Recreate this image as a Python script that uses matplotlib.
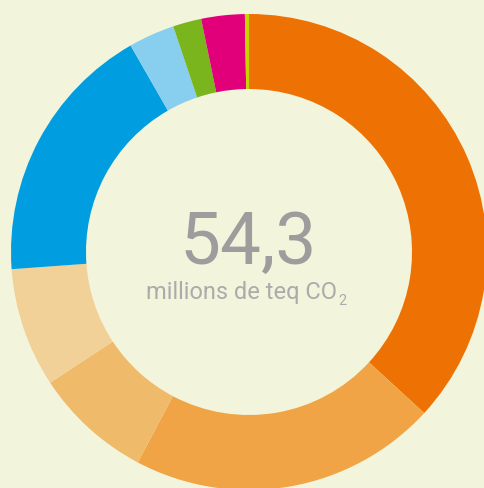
import matplotlib
matplotlib.use("Agg")
import matplotlib.pyplot as plt

# Data (millions de teq CO2), clockwise from top
labels = ["A", "B", "C", "D", "E", "F", "G", "H", "I"]
values = [20.0, 11.35, 4.35, 4.4, 9.7, 1.7, 1.05, 1.6, 0.15]
colors = ["#EE7203", "#F0A445", "#F0BA6B", "#F2D198", "#009EE0",
          "#87CEEF", "#7AB51D", "#E2007A", "#C8D400"]
total_label = "54,3"
unit_label = "millions de teq CO"
unit_sub = "2"

bg = "#F2F5DC"

fig = plt.figure(figsize=(4.84, 4.88), dpi=100, facecolor=bg)
ax = fig.add_axes([0, 0, 1, 1])
ax.set_facecolor(bg)

cx, cy, R, W = 249, 236, 238, 75
ax.pie(values, colors=colors, startangle=90, counterclock=False,
       center=(cx, cy), radius=R,
       wedgeprops=dict(width=W, edgecolor="none", linewidth=0))
ax.set_xlim(0, 484)
ax.set_ylim(0, 488)
ax.set_aspect("equal")
ax.axis("off")

ax.text(248, 244, total_label, ha="center", va="center", fontsize=52.5,
        family="Roboto", color="#9D9D9D")
ax.text(337.5, 189, unit_label, ha="right", va="baseline", fontsize=17,
        family="Roboto", color="#ABABAB")
ax.text(338.5, 183, unit_sub, ha="left", va="baseline", fontsize=10.5,
        family="Roboto", color="#ABABAB")

fig.savefig("out.png", dpi=100, facecolor=bg)
